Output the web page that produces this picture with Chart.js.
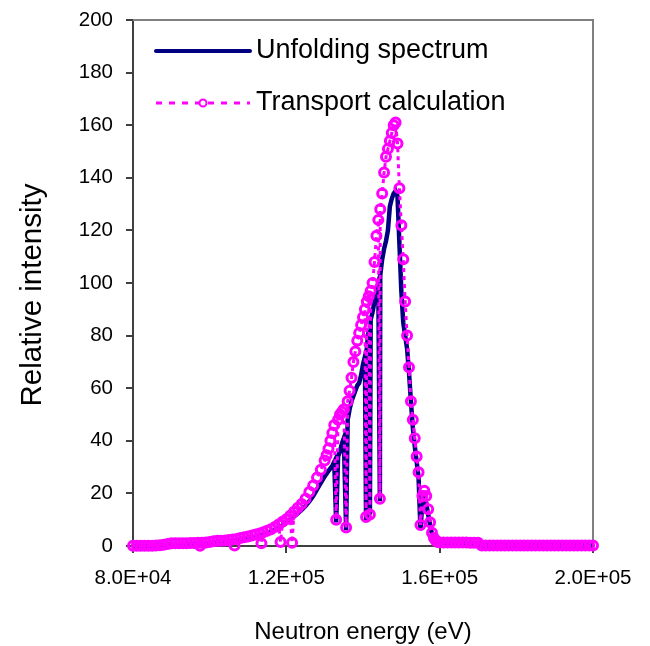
<!DOCTYPE html>
<html>
<head>
<meta charset="utf-8">
<script src="https://cdn.jsdelivr.net/npm/chart.js@4.4.0/dist/chart.umd.min.js"></script>
<style>
  html, body { margin: 0; padding: 0; background: #fff; }
</style>
</head>
<body>
<canvas id="spectrum" width="650" height="646"></canvas>
<script>
// Neutron energy grid (keV), shared by both curves
const energyKeV = [
  80, 81, 82, 83, 84, 85, 86, 87, 88, 89, 90, 91, 92, 93, 94, 95, 96, 97,
  97.5,
  98, 99, 100, 101, 102, 103, 104, 105, 106,
  106.5,
  107, 108, 109, 110, 111, 112, 113,
  113.5,
  114, 115, 116, 117, 118,
  118.5,
  119, 120, 121,
  121.5,
  122, 123, 124, 125, 126, 127, 128, 129, 130,
  130.5, 131, 131.5, 132, 132.5,
  133,
  133.5, 134, 134.5, 135,
  135.6,
  136, 136.5, 137, 137.5, 138, 138.5, 139, 139.5, 140, 140.5,
  140.8,
  141, 141.5,
  141.8,
  142, 142.5, 143, 143.5, 144,
  144.4,
  144.5, 145, 145.5, 146, 146.5, 147, 147.5, 148, 148.5, 149,
  149.5, 150, 150.5, 151, 151.5, 152, 152.5, 153, 153.5, 154,
  154.5, 155, 155.5, 156, 156.5, 157, 157.5, 158, 158.5, 159,
  159.5, 160,
  161, 162, 163, 164, 165, 166, 167, 168, 169, 170,
  171, 172, 173, 174, 175, 176, 177, 178, 179, 180,
  181, 182, 183, 184, 185, 186, 187, 188, 189, 190,
  191, 192, 193, 194, 195, 196, 197, 198, 199, 200
];

// Transport calculation (relative intensity)
const transport = [
  0.1, 0.1, 0.1, 0.1, 0.1, 0.1, 0.2, 0.3, 0.5, 0.8, 1.0, 1.0, 1.0, 1.0, 1.0, 1.1, 1.1, 1.2,
  0.1,
  1.2, 1.3, 1.5, 1.8, 2.0, 2.0, 2.1, 2.3, 2.5,
  0.2,
  2.7, 3.0, 3.3, 3.6, 4.0, 4.4, 4.8,
  1.0,
  5.2, 5.8, 6.4, 7.2, 8.2,
  1.5,
  9.2, 10.2, 11.5,
  1.2,
  13, 14.5, 16, 18, 20.5, 23, 26, 29, 32.5,
  34.5, 37, 40, 43, 46,
  10,
  48, 50, 51, 52,
  7,
  55, 59, 64, 70, 74, 78, 81, 84, 87, 90,
  11,
  93, 95,
  12,
  97, 100, 108, 118, 124,
  18,
  128, 134, 142, 148, 151, 154, 157, 160, 161, 153,
  136, 122, 109, 93, 80, 68, 55, 48, 41, 34,
  28, 8, 19, 21, 19, 14, 9, 5, 3, 2,
  1.5, 1.3,
  1.3, 1.3, 1.3, 1.3, 1.3, 1.3, 1.3, 1.2, 1.2, 1.2,
  0.2, 0.2, 0.2, 0.2, 0.2, 0.2, 0.2, 0.2, 0.2, 0.2,
  0.2, 0.2, 0.2, 0.2, 0.2, 0.2, 0.2, 0.2, 0.2, 0.2,
  0.2, 0.2, 0.2, 0.2, 0.2, 0.2, 0.2, 0.2, 0.2, 0.2
];

// Unfolding spectrum (relative intensity)
const unfolding = [
  0.1, 0.1, 0.1, 0.1, 0.1, 0.1, 0.2, 0.2, 0.4, 0.6, 0.8, 0.8, 0.8, 0.8, 0.9, 0.9, 0.9, 1.0,
  1.0,
  1.0, 1.1, 1.2, 1.4, 1.6, 1.7, 1.8, 2.0, 2.1,
  2.2,
  2.3, 2.5, 2.8, 3.0, 3.3, 3.6, 4.0,
  4.2,
  4.4, 4.9, 5.4, 6.1, 7.0,
  7.4,
  7.9, 8.8, 10.0,
  10.6,
  11.2, 12.4, 13.7, 15.2, 17, 19, 21.5, 24, 26.5,
  27.5, 28.5, 29.5, 30.5, 32,
  9,
  34, 36, 39, 41,
  6,
  48, 52, 55, 57, 59, 61, 62, 65, 69, 72,
  10,
  76, 82,
  12,
  86, 89, 93, 97, 100,
  17,
  103, 109, 113, 116, 120, 129, 132, 134, 135, 133,
  115, 97, 85, 80, 75, 66, 55, 45, 38, 32,
  26, 6, 17, 18, 16, 12, 8, 4.5, 2.8, 1.9,
  1.4, 1.2,
  1.2, 1.2, 1.2, 1.2, 1.2, 1.2, 1.2, 1.1, 1.1, 1.1,
  0.15, 0.15, 0.15, 0.15, 0.15, 0.15, 0.15, 0.15, 0.15, 0.15,
  0.15, 0.15, 0.15, 0.15, 0.15, 0.15, 0.15, 0.15, 0.15, 0.15,
  0.15, 0.15, 0.15, 0.15, 0.15, 0.15, 0.15, 0.15, 0.15, 0.15
];

const seriesNames = ['Unfolding spectrum', 'Transport calculation'];
const xTickValues = [80000, 120000, 160000, 200000];
const yTickValues = [0, 20, 40, 60, 80, 100, 120, 140, 160, 180, 200];
const xTitle = 'Neutron energy (eV)';
const yTitle = 'Relative intensity';

const FONT = "'Liberation Sans', Arial, sans-serif";
const NAVY = '#000080';
const PINK = '#FF00FF';

function sci(v) {
  const e = Math.floor(Math.log10(v));
  const m = v / Math.pow(10, e);
  return m.toFixed(1) + 'E+' + String(e).padStart(2, '0');
}

// gray frame on top and right of the plot area
const framePlugin = {
  id: 'frame',
  beforeDatasetsDraw(chart) {
    const { ctx, chartArea: a } = chart;
    ctx.save();
    ctx.strokeStyle = '#808080';
    ctx.lineWidth = 2;
    ctx.beginPath();
    ctx.moveTo(a.left, a.top);
    ctx.lineTo(a.right, a.top);
    ctx.lineTo(a.right, a.bottom);
    ctx.stroke();
    ctx.restore();
  }
};

// legend inside the plot (top left) and the rotated y title
const legendPlugin = {
  id: 'innerLegend',
  afterDraw(chart) {
    const { ctx, chartArea: a } = chart;
    const x0 = a.left + 23, x1 = a.left + 117, tx = a.left + 123;
    const y0 = a.top + 31, y1 = a.top + 83;
    ctx.save();
    ctx.lineCap = 'round';
    ctx.strokeStyle = NAVY;
    ctx.lineWidth = 4;
    ctx.beginPath(); ctx.moveTo(x0, y0); ctx.lineTo(x1, y0); ctx.stroke();

    ctx.lineCap = 'butt';
    ctx.strokeStyle = PINK;
    ctx.lineWidth = 3;
    ctx.setLineDash([6, 7]);
    ctx.beginPath(); ctx.moveTo(x0, y1); ctx.lineTo(x1, y1); ctx.stroke();
    ctx.setLineDash([]);
    ctx.lineWidth = 2;
    ctx.fillStyle = '#fff';
    ctx.beginPath(); ctx.arc((x0 + x1) / 2, y1, 3.5, 0, Math.PI * 2); ctx.fill(); ctx.stroke();

    ctx.fillStyle = '#000';
    ctx.font = '27px ' + FONT;
    ctx.textBaseline = 'middle';
    ctx.fillText(seriesNames[0], tx, y0);
    ctx.fillText(seriesNames[1], tx, y1);

    ctx.translate(33, 295);
    ctx.rotate(-Math.PI / 2);
    ctx.textAlign = 'center';
    ctx.font = '29.5px ' + FONT;
    ctx.fillText(yTitle, 0, 0);
    ctx.restore();
  }
};

const ctx = document.getElementById('spectrum').getContext('2d');
new Chart(ctx, {
  type: 'line',
  data: {
    datasets: [
      {
        label: seriesNames[1],
        data: energyKeV.map((e, i) => ({ x: e * 1000, y: transport[i] })),
        borderColor: PINK,
        borderWidth: 3,
        borderDash: [4, 4],
        pointRadius: 4.5,
        pointBorderWidth: 3,
        pointBorderColor: PINK,
        pointBackgroundColor: 'rgba(0,0,0,0)',
        tension: 0,
        clip: false,
        order: 0
      },
      {
        label: seriesNames[0],
        data: energyKeV.map((e, i) => ({ x: e * 1000, y: unfolding[i] })),
        borderColor: NAVY,
        borderWidth: 4.5,
        pointRadius: 0,
        tension: 0,
        clip: false,
        order: 1
      }
    ]
  },
  options: {
    responsive: false,
    animation: false,
    layout: { padding: { left: 0, right: 57, top: 20, bottom: 0 } },
    plugins: { legend: { display: false }, tooltip: { enabled: false } },
    scales: {
      x: {
        type: 'linear',
        min: 80000,
        max: 200000,
        afterBuildTicks: s => { s.ticks = xTickValues.map(v => ({ value: v })); },
        afterFit: s => { s.height = 100; s.paddingLeft = 0; s.paddingRight = 0; },
        grid: { drawOnChartArea: false, drawTicks: true, tickLength: 7, color: '#404040', lineWidth: 2 },
        border: { display: true, color: '#404040', width: 2 },
        ticks: {
          color: '#000', padding: 13, autoSkip: false, maxRotation: 0,
          font: { family: FONT, size: 20.5 },
          callback: v => sci(v)
        },
        title: {
          display: true, text: xTitle, color: '#000',
          font: { family: FONT, size: 24, lineHeight: 1.1 }, padding: { top: 0, bottom: 0 }
        }
      },
      y: {
        min: 0,
        max: 200,
        afterBuildTicks: s => { s.ticks = yTickValues.map(v => ({ value: v })); },
        afterFit: s => { s.width = 133; s.paddingTop = 0; s.paddingBottom = 0; },
        grid: { drawOnChartArea: false, drawTicks: true, tickLength: 7, color: '#404040', lineWidth: 2 },
        border: { display: true, color: '#404040', width: 2 },
        ticks: {
          color: '#000', padding: 13, autoSkip: false,
          font: { family: FONT, size: 20.5 }
        },
        title: { display: false }
      }
    }
  },
  plugins: [framePlugin, legendPlugin]
});
</script>
</body>
</html>
